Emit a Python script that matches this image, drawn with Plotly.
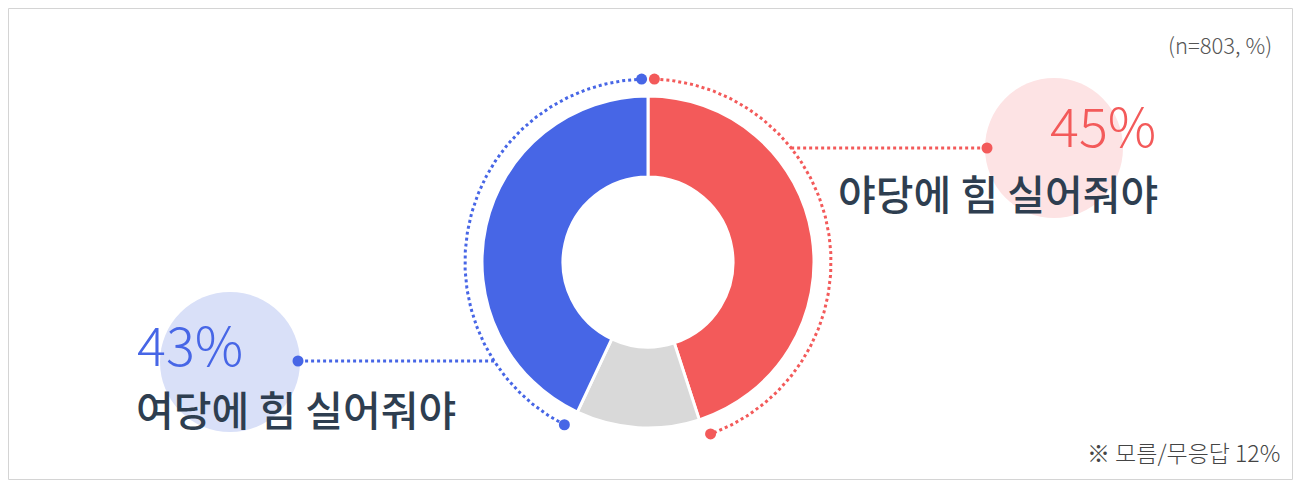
import numpy as np
import plotly.graph_objects as go

# ---- data ----
categories = ["야당에 힘 실어줘야", "모름/무응답", "여당에 힘 실어줘야"]
values = [45, 12, 43]
colors = ["#F35A5A", "#D9D9D9", "#4766E6"]
pct_labels = ["45%", "12%", "43%"]
sample_note = "(n=803, %)"
dk_note = "※ 모름/무응답 12%"

W, H = 1301, 487
OFF = 8  # page body margin; axis coordinates are page pixels
CX, CY = 648, 262
R_OUT = 166
R_HOLE = 85
R_ARC = 183
GAP = 2.0

fig = go.Figure()

fig.add_trace(go.Pie(
    values=values, labels=categories, sort=False, direction="clockwise", rotation=0,
    hole=R_HOLE / R_OUT, textinfo="none", hoverinfo="skip", showlegend=False,
    marker=dict(colors=colors, line=dict(color="white", width=3)),
    domain=dict(x=[(CX - R_OUT - OFF) / W, (CX + R_OUT - OFF) / W],
                y=[1 - (CY + R_OUT - OFF) / H, 1 - (CY - R_OUT - OFF) / H]),
))

total = sum(values)
cum = np.cumsum([0] + values) / total * 360.0


def arc(a0, a1, n=200):
    t = np.radians(np.linspace(a0, a1, n))
    return CX + R_ARC * np.sin(t), CY - R_ARC * np.cos(t)


def pt(a):
    t = np.radians(a)
    return CX + R_ARC * np.sin(t), CY - R_ARC * np.cos(t)


arcs = [(0, cum[0] + GAP, cum[1] - GAP), (2, cum[2] + GAP, cum[3] - GAP)]
for idx, a0, a1 in arcs:
    x, y = arc(a0, a1)
    fig.add_trace(go.Scatter(x=x, y=y, mode="lines", hoverinfo="skip", showlegend=False,
                             line=dict(color=colors[idx], width=3, dash="dot")))
    ex = [pt(a0)[0], pt(a1)[0]]
    ey = [pt(a0)[1], pt(a1)[1]]
    fig.add_trace(go.Scatter(x=ex, y=ey, mode="markers", hoverinfo="skip", showlegend=False,
                             marker=dict(color=colors[idx], size=11)))

RED_Y, RED_END = 148, 987
BLUE_Y, BLUE_END = 361, 298
rx = CX + np.sqrt(R_ARC ** 2 - (CY - RED_Y) ** 2)
bx = CX - np.sqrt(R_ARC ** 2 - (BLUE_Y - CY) ** 2)
fig.add_trace(go.Scatter(x=[rx, RED_END], y=[RED_Y, RED_Y], mode="lines", hoverinfo="skip",
                         showlegend=False, line=dict(color=colors[0], width=3, dash="dot")))
fig.add_trace(go.Scatter(x=[RED_END], y=[RED_Y], mode="markers", hoverinfo="skip",
                         showlegend=False, marker=dict(color=colors[0], size=11)))
fig.add_trace(go.Scatter(x=[bx, BLUE_END], y=[BLUE_Y, BLUE_Y], mode="lines", hoverinfo="skip",
                         showlegend=False, line=dict(color=colors[2], width=3, dash="dot")))
fig.add_trace(go.Scatter(x=[BLUE_END], y=[BLUE_Y], mode="markers", hoverinfo="skip",
                         showlegend=False, marker=dict(color=colors[2], size=11)))

shapes = [
    dict(type="rect", xref="x", yref="y", x0=8.5, x1=1292.5, y0=8.5, y1=479.5,
         line=dict(color="#D4D4D4", width=1), layer="below"),
    dict(type="circle", xref="x", yref="y", x0=1054 - 69, x1=1054 + 69, y0=148 - 70, y1=148 + 70,
         fillcolor="#FDE3E4", line=dict(width=0), layer="below"),
    dict(type="circle", xref="x", yref="y", x0=230 - 70, x1=230 + 70, y0=362 - 70, y1=362 + 70,
         fillcolor="#D9E0F8", line=dict(width=0), layer="below"),
]

FONT = "Noto Sans CJK KR"
ann = [
    dict(x=1158, y=123, text=pct_labels[0], xanchor="right", yanchor="middle",
         font=dict(family=FONT, size=54, color=colors[0], weight=300)),
    dict(x=1160, y=192, text=categories[0], xanchor="right", yanchor="middle",
         font=dict(family=FONT, size=41, color="#2E3E50", weight=500)),
    dict(x=135, y=342, text=pct_labels[2], xanchor="left", yanchor="middle",
         font=dict(family=FONT, size=54, color=colors[2], weight=300)),
    dict(x=134, y=408, text=categories[2], xanchor="left", yanchor="middle",
         font=dict(family=FONT, size=41, color="#2E3E50", weight=500)),
    dict(x=1274, y=44, text=sample_note, xanchor="right", yanchor="middle",
         font=dict(family=FONT, size=22, color="#555555", weight=300)),
    dict(x=1282, y=452, text=dk_note, xanchor="right", yanchor="middle",
         font=dict(family=FONT, size=23, color="#444444", weight=300)),
]
for a in ann:
    a.update(xref="x", yref="y", showarrow=False)

fig.update_layout(
    width=W, height=H, margin=dict(l=0, r=0, t=0, b=0),
    paper_bgcolor="white", plot_bgcolor="white",
    xaxis=dict(range=[OFF, W + OFF], visible=False, fixedrange=True),
    yaxis=dict(range=[H + OFF, OFF], visible=False, fixedrange=True),
    shapes=shapes, annotations=ann, showlegend=False,
)

fig.write_html("out.html", config={"displayModeBar": False})
